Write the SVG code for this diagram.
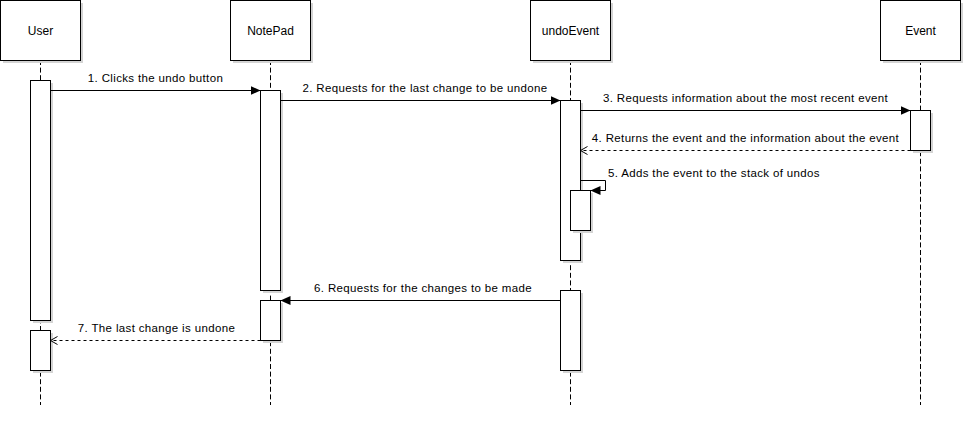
<svg xmlns="http://www.w3.org/2000/svg" width="965" height="425" viewBox="0 0 965 425">
<style>
.bg{fill:#ffffff}
.sh{fill:#d4d4d4;stroke:none}
.box{fill:#ffffff;stroke:#000000;stroke-width:1}
.life{stroke:#000000;stroke-width:1;stroke-dasharray:5 2.6;fill:none}
.hdr{font-family:"Liberation Sans",Arial,sans-serif;font-size:12px;fill:#000000;text-anchor:middle}
.lbl{font-family:"Liberation Sans",Arial,sans-serif;font-size:11.5px;letter-spacing:0.35px;fill:#000000;text-anchor:middle}
.msg{stroke:#000000;stroke-width:1;fill:none}
.call{marker-end:url(#block)}
.ret{stroke-dasharray:3 3;marker-end:url(#open)}
</style>
<defs>
<marker id="block" viewBox="0 0 10 10" refX="10" refY="5" markerWidth="10" markerHeight="10" orient="auto" markerUnits="userSpaceOnUse">
<path d="M0,0.5 L10,5 L0,9.5 z" fill="#000000" stroke="none"/>
</marker>
<marker id="open" viewBox="0 0 10 10" refX="9" refY="5" markerWidth="10" markerHeight="10" orient="auto" markerUnits="userSpaceOnUse">
<path d="M2,1 L9,5 L2,9" fill="none" stroke="#000000" stroke-width="1" stroke-dasharray="none"/>
</marker>
</defs>
<rect class="bg" x="0" y="0" width="965" height="425"/>

<g id="user">
<line class="life" x1="40.5" y1="60" x2="40.5" y2="405"/>
<rect class="sh" x="3" y="3" width="80" height="60"/>
<rect class="box" x="0.5" y="0.5" width="80" height="60"/>
<text class="hdr" x="40.5" y="34.5">User</text>
<rect class="sh" x="33" y="83" width="20" height="240"/>
<rect class="box" x="30.5" y="80.5" width="20" height="240"/>
<rect class="sh" x="33" y="333" width="20" height="40"/>
<rect class="box" x="30.5" y="330.5" width="20" height="40"/>
</g>

<g id="notepad">
<line class="life" x1="270.5" y1="60" x2="270.5" y2="405"/>
<rect class="sh" x="233" y="3" width="80" height="60"/>
<rect class="box" x="230.5" y="0.5" width="80" height="60"/>
<text class="hdr" x="270.5" y="34.5">NotePad</text>
<rect class="sh" x="263" y="93" width="20" height="200"/>
<rect class="box" x="260.5" y="90.5" width="20" height="200"/>
<rect class="sh" x="263" y="303" width="20" height="40"/>
<rect class="box" x="260.5" y="300.5" width="20" height="40"/>
</g>

<g id="undoEvent">
<line class="life" x1="570.5" y1="60" x2="570.5" y2="405"/>
<rect class="sh" x="533" y="3" width="80" height="60"/>
<rect class="box" x="530.5" y="0.5" width="80" height="60"/>
<text class="hdr" x="570.5" y="34.5">undoEvent</text>
<rect class="sh" x="563" y="103" width="20" height="160"/>
<rect class="box" x="560.5" y="100.5" width="20" height="160"/>
<rect class="sh" x="573" y="193" width="20" height="40"/>
<rect class="box" x="570.5" y="190.5" width="20" height="40"/>
<rect class="sh" x="563" y="293" width="20" height="80"/>
<rect class="box" x="560.5" y="290.5" width="20" height="80"/>
</g>

<g id="event">
<line class="life" x1="920.5" y1="60" x2="920.5" y2="405"/>
<rect class="sh" x="883" y="3" width="80" height="60"/>
<rect class="box" x="880.5" y="0.5" width="80" height="60"/>
<text class="hdr" x="920.5" y="34.5">Event</text>
<rect class="sh" x="913" y="113" width="20" height="40"/>
<rect class="box" x="910.5" y="110.5" width="20" height="40"/>
</g>

<g id="connectors">
<path class="msg call" d="M50.5,90.5 L260.5,90.5"/>
<text class="lbl" x="155.5" y="82">1. Clicks the undo button</text>
<path class="msg call" d="M280.5,100.5 L560.5,100.5"/>
<text class="lbl" x="425" y="92">2. Requests for the last change to be undone</text>
<path class="msg call" d="M580.5,110.5 L910.5,110.5"/>
<text class="lbl" x="745.5" y="102">3. Requests information about the most recent event</text>
<path class="msg ret" d="M910.5,150.5 L580.5,150.5"/>
<text class="lbl" x="745.5" y="142">4. Returns the event and the information about the event</text>
<path class="msg call" d="M580.5,180.5 L605.5,180.5 L605.5,190.5 L590.5,190.5"/>
<text class="lbl" x="608" y="177" style="text-anchor:start">5. Adds the event to the stack of undos</text>
<path class="msg call" d="M560.5,300.5 L280.5,300.5"/>
<text class="lbl" x="423" y="292">6. Requests for the changes to be made</text>
<path class="msg ret" d="M260.5,340.5 L50.5,340.5"/>
<text class="lbl" x="156.5" y="332">7. The last change is undone</text>
</g>
</svg>
